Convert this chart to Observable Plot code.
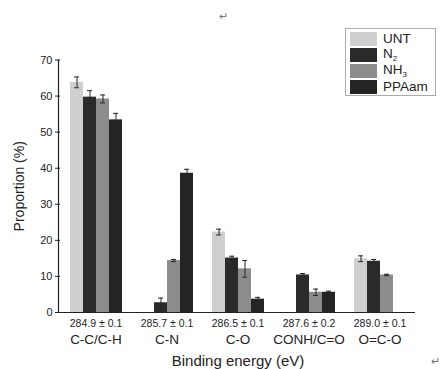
<!DOCTYPE html>
<html><head><meta charset="utf-8">
<script src="https://cdn.jsdelivr.net/npm/d3@7"></script>
<script src="https://cdn.jsdelivr.net/npm/@observablehq/plot@0.6"></script>
<style>
body{margin:0;background:#fff;font-family:"Liberation Sans",Arial,sans-serif;}
#wrap{position:relative;width:445px;height:369px;overflow:hidden;}
#legend{position:absolute;left:345px;top:28px;width:91px;height:68px;border:1px solid #aaa;background:#fff;box-sizing:border-box;padding:2px 0 0 4px;}
.row{display:flex;align-items:center;height:16px;}
.sw{width:27px;height:14px;margin-right:6px;flex:none;}
.lab{font-size:13.5px;color:#222;line-height:14px;white-space:nowrap;}
.sub{font-size:8px;position:relative;top:3px;}
.mark{position:absolute;color:#777;font-size:11px;line-height:11px;}
svg g[aria-label="y-axis label"] text{font-size:14px;}
svg g[aria-label="fx-axis label"] text{font-size:15px;}
</style></head>
<body><div id="wrap"></div>
<script>
const groups = ["C-C/C-H", "C-N", "C-O", "CONH/C=O", "O=C-O"];
const energies = ["284.9 ± 0.1", "285.7 ± 0.1", "286.5 ± 0.1", "287.6 ± 0.2", "289.0 ± 0.1"];
const series = ["UNT", "N2", "NH3", "PPAam"];
const seriesLabels = ["UNT", "N<span class='sub'>2</span>", "NH<span class='sub'>3</span>", "PPAam"];
const colors = ["#cfcfcf", "#2a2a2a", "#8c8c8c", "#242424"];
const yTicks = [0, 10, 20, 30, 40, 50, 60, 70];

const UNT   = [63.8, null, 22.3, null, 14.9];
const N2    = [59.7, 2.7, 15.1, 10.4, 14.2];
const NH3   = [59.2, 14.4, 12.1, 5.6, 10.4];
const PPAam = [53.4, 38.6, 3.7, 5.6, null];
const UNTerr   = [1.5, null, 0.8, null, 0.8];
const N2err    = [1.8, 1.3, 0.5, 0.4, 0.5];
const NH3err   = [1.1, 0.3, 2.3, 0.9, 0.2];
const PPAamerr = [1.8, 1.1, 0.5, 0.3, null];

const vals = {UNT, N2, NH3, PPAam};
const errs = {UNT: UNTerr, N2: N2err, NH3: NH3err, PPAam: PPAamerr};
const data = [];
groups.forEach((g, i) => series.forEach(s => {
  const v = vals[s][i];
  if (v != null) data.push({group: g, series: s, value: v, err: errs[s][i]});
}));

const chart = Plot.plot({
  width: 445, height: 369,
  marginLeft: 59, marginRight: 29, marginTop: 59.5, marginBottom: 57,
  style: {fontFamily: "Liberation Sans, Arial, sans-serif", color: "#222", background: "transparent"},
  fx: {domain: groups, padding: 0, axis: null},
  x: {domain: series, paddingInner: 0, paddingOuter: 0.55, axis: null},
  y: {domain: [0, 70], axis: null},
  color: {domain: series, range: colors},
  marks: [
    Plot.barY(data, {fx: "group", x: "series", y: "value", fill: "series"}),
    Plot.ruleX(data, {fx: "group", x: "series", y1: d => d.value - d.err, y2: d => d.value + d.err, stroke: "#262626"}),
    Plot.tickY(data, {fx: "group", x: "series", y: d => d.value + d.err, insetLeft: 4, insetRight: 4, stroke: "#262626"}),
    Plot.tickY(data, {fx: "group", x: "series", y: d => d.value - d.err, insetLeft: 4, insetRight: 4, stroke: "#262626"}),
    Plot.ruleY([0], {stroke: "#222", strokeWidth: 1.2}),
    Plot.axisY({ticks: yTicks, tickSize: 5, tickPadding: 3, fontSize: 11, label: "Proportion (%)", labelAnchor: "center", labelOffset: 46, labelArrow: "none"}),
    Plot.axisFx({anchor: "bottom", tickSize: 0, tickPadding: 7, fontSize: 10.5, tickFormat: g => energies[groups.indexOf(g)], label: null}),
    Plot.axisFx({anchor: "bottom", tickSize: 0, tickPadding: 22, fontSize: 13.5, label: "Binding energy (eV)", labelAnchor: "center", labelOffset: 53, labelArrow: "none"})
  ]
});

// y-axis line, positioned through Plot's own y scale
const ys = chart.scale("y");
d3.select(chart).append("line")
  .attr("x1", 58.5).attr("x2", 58.5)
  .attr("y1", ys.apply(yTicks[0])).attr("y2", ys.apply(yTicks[yTicks.length - 1]))
  .attr("stroke", "#222").attr("stroke-width", 1.2);

const wrap = document.getElementById("wrap");
wrap.appendChild(chart);
const leg = document.createElement("div");
leg.id = "legend";
series.forEach((s, i) => {
  const r = document.createElement("div");
  r.className = "row";
  r.innerHTML = `<div class="sw" style="background:${colors[i]}"></div><span class="lab">${seriesLabels[i]}</span>`;
  leg.appendChild(r);
});
wrap.appendChild(leg);
const m1 = document.createElement("div");
m1.className = "mark"; m1.style.left = "219px"; m1.style.top = "11px"; m1.textContent = "↵";
wrap.appendChild(m1);
const m2 = document.createElement("div");
m2.className = "mark"; m2.style.left = "431px"; m2.style.top = "356px"; m2.textContent = "↵";
wrap.appendChild(m2);
</script></body></html>
